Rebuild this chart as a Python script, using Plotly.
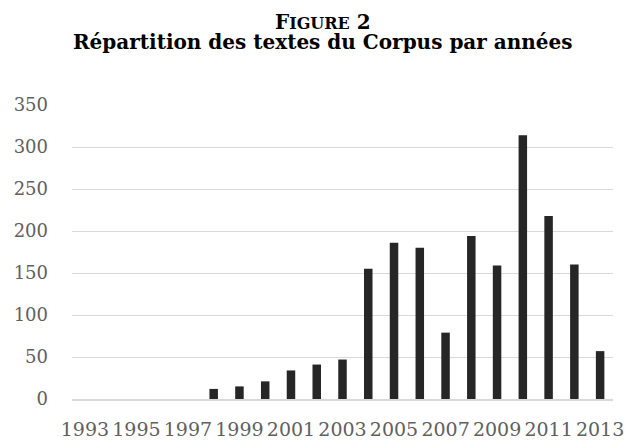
import plotly.graph_objects as go

years = [str(y) for y in range(1993, 2014)]
counts = [0, 0, 0, 0, 0, 12, 15, 21, 34, 41, 47, 155, 186, 180, 79, 194, 159, 314, 218, 160, 57]
tick_labels = [str(y) for y in range(1993, 2014, 2)]

title_line1 = "F<span style='font-size:16px'>IGURE</span> 2"
title_line2 = "Répartition des textes du Corpus par années"

FONT = "DejaVu Serif"
W, H = 625, 442
L, R, T, B = 72, 12, 105, 43
PW, PH = W - L - R, H - T - B


def px_to_paper(xp, yp):
    return (xp - L) / PW, (H - B - yp) / PH


fig = go.Figure(go.Bar(
    x=years, y=counts,
    marker=dict(color="#262626", line=dict(width=0)),
))

ax1, ay1 = px_to_paper(323, 22)
ax2, ay2 = px_to_paper(323, 42)

fig.update_layout(
    width=W, height=H,
    margin=dict(l=L, r=R, t=T, b=B, autoexpand=False),
    paper_bgcolor="white", plot_bgcolor="white",
    bargap=0.67,
    showlegend=False,
    font=dict(family=FONT, color="#595959"),
    annotations=[
        dict(text="<b>" + title_line1 + "</b>", x=ax1, y=ay1, xref="paper", yref="paper",
             showarrow=False, font=dict(family=FONT, size=20, color="#000000"),
             xanchor="center", yanchor="middle"),
        dict(text="<b>" + title_line2 + "</b>", x=ax2, y=ay2, xref="paper", yref="paper",
             showarrow=False, font=dict(family=FONT, size=20, color="#000000"),
             xanchor="center", yanchor="middle"),
    ],
)

fig.update_xaxes(
    type="category", automargin=False,
    tickmode="array", tickvals=tick_labels, ticktext=tick_labels,
    tickfont=dict(family=FONT, size=19, color="#606060"),
    showgrid=False, showline=True, linecolor="#d9d9d9", linewidth=1.5,
    ticks="", ticklabelstandoff=12,
)
fig.update_yaxes(
    range=[0, 350], dtick=50, tick0=0, automargin=False,
    tickfont=dict(family=FONT, size=18, color="#606060"),
    showgrid=True, gridcolor="#d9d9d9", gridwidth=1.2,
    zeroline=False, showline=False, ticks="", ticklabelstandoff=23,
)

fig.write_html(
    "out.html",
    config={"displayModeBar": False},
    post_script="document.body.style.margin='0';document.body.style.overflow='hidden';",
)
